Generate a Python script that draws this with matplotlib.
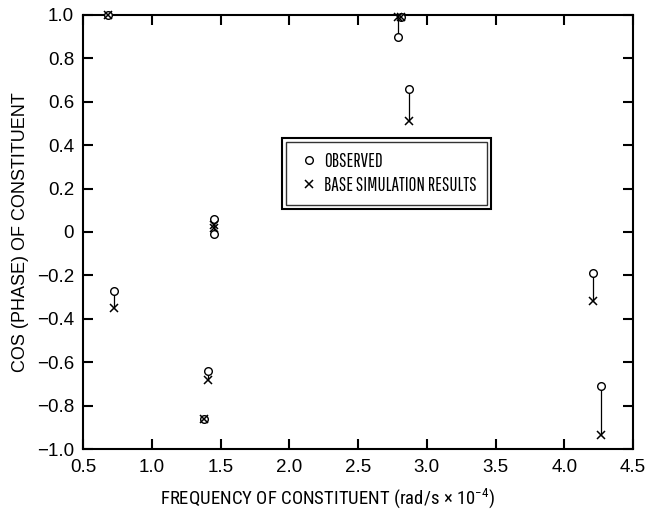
import matplotlib
matplotlib.use("Agg")
import matplotlib.pyplot as plt
from matplotlib.ticker import FuncFormatter
from matplotlib.patches import Rectangle
from matplotlib import font_manager as fm

names = {f.name for f in fm.fontManager.ttflist}
def pick(cands, default):
    for c in cands:
        if c in names:
            return c
    return default

regular = pick(['Nimbus Sans', 'Liberation Sans', 'Arimo'], 'DejaVu Sans')
narrow = pick(['Nimbus Sans Narrow', 'Liberation Sans Narrow', 'Arial Narrow',
               'Roboto Condensed', 'Archivo Narrow', 'PT Sans Narrow',
               'Barlow Semi Condensed'], regular)
xnarrow = pick(['Pathway Gothic One', 'Sofia Sans Extra Condensed',
                'Barlow Condensed', 'Saira Extra Condensed'], narrow)

plt.rcParams['font.family'] = [regular, 'DejaVu Sans']
plt.rcParams['mathtext.fontset'] = 'custom'
plt.rcParams['mathtext.rm'] = narrow
plt.rcParams['mathtext.it'] = narrow
plt.rcParams['mathtext.default'] = 'rm'

frequency = [0.68, 0.725, 1.38, 1.41, 1.45, 1.455, 2.79, 2.81, 2.87, 4.21, 4.27]
observed = [1.00, -0.27, -0.86, -0.64, 0.06, -0.01, 0.90, 0.99, 0.66, -0.19, -0.71]
simulated = [1.00, -0.35, -0.86, -0.68, 0.02, 0.03, 0.99, 0.99, 0.51, -0.32, -0.935]
x_ticks = [0.5, 1.0, 1.5, 2.0, 2.5, 3.0, 3.5, 4.0, 4.5]
y_ticks = [-1.0, -0.8, -0.6, -0.4, -0.2, 0.0, 0.2, 0.4, 0.6, 0.8, 1.0]
labels = ['OBSERVED', 'BASE SIMULATION RESULTS']

fig = plt.figure(figsize=(6.5, 5.12), dpi=100)
ax = fig.add_axes([0.128, 0.123, 0.846, 0.848])

for f, o, s in zip(frequency, observed, simulated):
    ax.plot([f, f], [o, s], color='black', lw=0.9, zorder=2)

ax.plot(frequency, observed, linestyle='none', marker='o', markersize=5.5,
        markerfacecolor='white', markeredgecolor='black', markeredgewidth=1.0,
        label=labels[0], zorder=3, clip_on=False)
ax.plot(frequency, simulated, linestyle='none', marker='x', markersize=6,
        color='black', markeredgewidth=1.1, label=labels[1],
        zorder=4, clip_on=False)

ax.set_xlim(0.5, 4.5)
ax.set_ylim(-1.0, 1.0)
ax.set_xticks(x_ticks)
ax.set_yticks(y_ticks)
ax.xaxis.set_major_formatter(FuncFormatter(lambda v, p: f"{v:.1f}"))
def yfmt(v, p):
    if abs(v) < 1e-9:
        return "0"
    return f"{v:.1f}".replace('-', '\u2212')
ax.yaxis.set_major_formatter(FuncFormatter(yfmt))
ax.tick_params(direction='in', top=True, right=True, length=7, width=1.5,
               labelsize=13.5, colors='black')
ax.tick_params(axis='x', pad=7.5)
ax.tick_params(axis='y', pad=6.5)
for sp in ax.spines.values():
    sp.set_linewidth(1.5)

xl = ax.set_xlabel(r"FREQUENCY OF CONSTITUENT (rad/s $\times$ 10$^{-4}$)",
                   fontsize=14, family=narrow)
yl = ax.set_ylabel("COS (PHASE) OF CONSTITUENT", fontsize=13, family=regular)
ax.xaxis.set_label_coords(0.445, -0.085)
ax.yaxis.set_label_coords(-0.098, 0.5)

# fit text sizes to the widths seen in the reference
fig.canvas.draw()
r = fig.canvas.get_renderer()
w = xl.get_window_extent(r).width
xl.set_fontsize(14 * 337.0 / w)
h = yl.get_window_extent(r).height
yl.set_fontsize(13 * 280.0 / h)

tmp = fig.text(0, 0, labels[1], family=xnarrow, fontsize=10)
tw = tmp.get_window_extent(r).width
tmp.remove()
lfs = 10 * 152.0 / tw
em = lfs * fig.dpi / 72.0

leg = ax.legend(loc='upper left', bbox_to_anchor=(0.369, 0.7074), frameon=True,
                fancybox=False, edgecolor='black',
                prop={'family': xnarrow, 'size': lfs},
                handlelength=26.0 / em, handletextpad=2.0 / em,
                borderpad=10.0 / em, labelspacing=5.0 / em,
                borderaxespad=0.0)
leg.get_frame().set_linewidth(1.0)

fig.canvas.draw()
bb = leg.get_window_extent().transformed(ax.transAxes.inverted())
pad_x = 4 / (ax.bbox.width)
pad_y = 4 / (ax.bbox.height)
ax.add_patch(Rectangle((bb.x0 - pad_x, bb.y0 - pad_y), bb.width + 2 * pad_x,
                       bb.height + 2 * pad_y, transform=ax.transAxes,
                       fill=False, edgecolor='black', lw=1.5, zorder=5))

fig.savefig("out.png", dpi=100)
